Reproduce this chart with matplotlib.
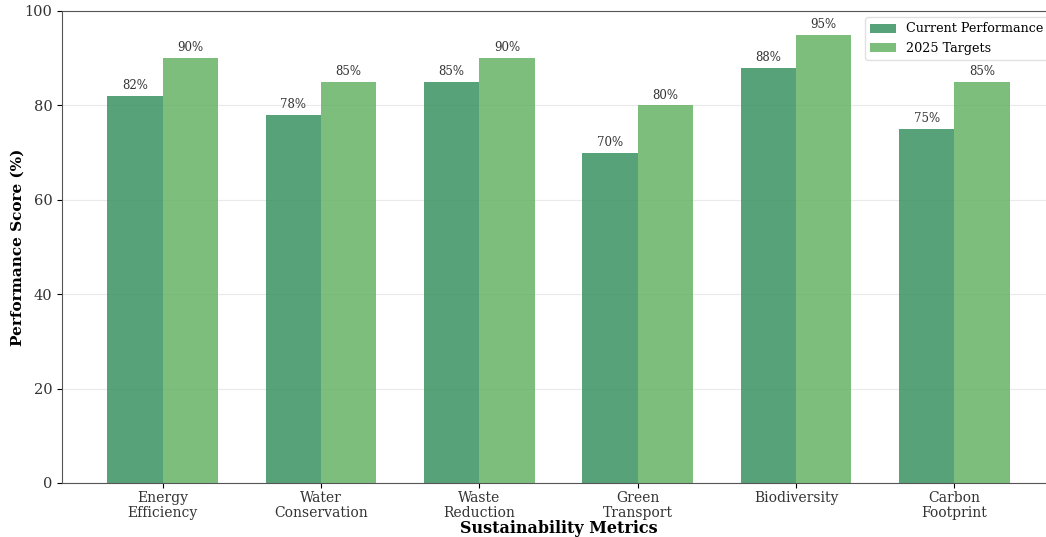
import matplotlib
matplotlib.use("Agg")
import matplotlib.pyplot as plt
import numpy as np

categories = ["Energy\nEfficiency", "Water\nConservation", "Waste\nReduction",
              "Green\nTransport", "Biodiversity", "Carbon\nFootprint"]
current = [82, 78, 85, 70, 88, 75]
targets = [90, 85, 90, 80, 95, 85]
series_names = ["Current Performance", "2025 Targets"]

plt.rcParams['font.family'] = ['DejaVu Serif']

W, H = 1046, 537
fig = plt.figure(figsize=(W / 100, H / 100), dpi=100)
left, right, top, bottom = 62, 1055, 11, 483
ax = fig.add_axes([left / W, (H - bottom) / H, (right - left) / W, (bottom - top) / H])

x = np.arange(len(categories))
w = 0.35
b1 = ax.bar(x - w / 2, current, w, color='#2E8B57', alpha=0.8, label=series_names[0])
b2 = ax.bar(x + w / 2, targets, w, color='#5DAE5D', alpha=0.8, label=series_names[1])

for bars, vals in ((b1, current), (b2, targets)):
    for r, v in zip(bars, vals):
        ax.text(r.get_x() + r.get_width() / 2, v + 0.8, f"{v}%", ha='center', va='bottom',
                fontsize=8.5, color='#333333')

ax.set_ylim(0, 100)
ax.set_xticks(x)
ax.set_xticklabels(categories, fontsize=10, color='#333333', linespacing=1.1)
ax.tick_params(axis='x', pad=2)
ax.tick_params(axis='y', labelsize=10.5, labelcolor='#333333')
ax.set_xlabel("Sustainability Metrics", fontsize=11.5, fontweight='bold', labelpad=0)
ax.set_ylabel("Performance Score (%)", fontsize=11, fontweight='bold', labelpad=0)
ax.yaxis.grid(True, color='#dddddd', alpha=0.6, linewidth=0.8)
ax.set_axisbelow(True)
for s in ax.spines.values():
    s.set_color('#555555')
ax.spines['right'].set_visible(False)

ax.legend(loc='upper right', fontsize=9.2, framealpha=0.9, edgecolor='#dddddd')

fig.savefig("out.png", dpi=100)
